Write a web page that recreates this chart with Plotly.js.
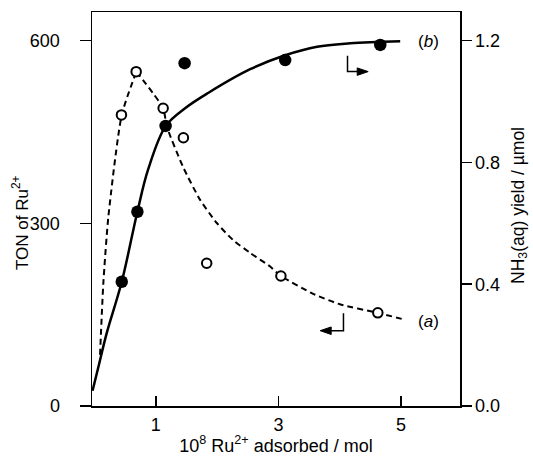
<!DOCTYPE html>
<html>
<head>
<meta charset="utf-8">
<script src="https://cdn.plot.ly/plotly-3.0.1.min.js"></script>
<style>html,body{margin:0;padding:0;background:#fff;}#chart{width:533px;height:456px;}</style>
</head>
<body>
<div id="chart"></div>
<script>
// (b) TON of Ru2+ (left axis), filled circles
const ruFilled = [0.445, 0.70, 1.16, 1.47, 3.11, 4.66];
const tonFilled = [204, 319, 460, 563, 568, 593];
// (a) NH3(aq) yield / umol (right axis), open circles
const ruOpen = [0.44, 0.68, 1.12, 1.45, 1.83, 3.04, 4.62];
const nh3Open = [0.956, 1.098, 0.978, 0.881, 0.469, 0.427, 0.306];
// fitted curve (b), solid
const ruCurveB = [-0.031, 0.064, 0.201, 0.445, 0.70, 0.874, 1.163, 1.478, 1.853, 2.538, 3.109, 3.63, 4.17, 4.985];
const tonCurveB = [25, 64, 120, 204, 319, 388, 460, 489, 514, 553, 576, 590, 595.5, 599];
// guide curve (a), dashed (rising part, then falling part from the peak)
const ruCurveA = [0.091, 0.145, 0.227, 0.445, 0.683, 1.119, 1.18, 1.445, 1.723, 1.995, 2.261, 2.538, 2.865, 3.04, 3.55, 4.0, 4.62, 5.07];
const nh3CurveA = [0.168, 0.404, 0.622, 0.956, 1.098, 0.978, 0.918, 0.785, 0.677, 0.601, 0.545, 0.503, 0.458, 0.427, 0.37, 0.334, 0.306, 0.283];
const peakIndexA = 4;
// ticks
const xTicks = [1, 3, 5];
const yTicks = [0, 300, 600];
const y2Ticks = [0, 0.4, 0.8, 1.2];

const FONT = 'Liberation Sans, Arial, sans-serif';
const dashLine = {color: '#000', width: 2, dash: '6px,4px', shape: 'spline', smoothing: 0.6};

const traces = [
  {x: ruCurveB, y: tonCurveB, type: 'scatter', mode: 'lines', line: {color: '#000', width: 2.5, shape: 'spline', smoothing: 1}, showlegend: false},
  {x: ruCurveA.slice(0, peakIndexA + 1), y: nh3CurveA.slice(0, peakIndexA + 1), yaxis: 'y2', type: 'scatter', mode: 'lines', line: dashLine, showlegend: false},
  {x: ruCurveA.slice(peakIndexA), y: nh3CurveA.slice(peakIndexA), yaxis: 'y2', type: 'scatter', mode: 'lines', line: dashLine, showlegend: false},
  {x: ruFilled, y: tonFilled, type: 'scatter', mode: 'markers', marker: {color: '#000', size: 12.5, line: {width: 0}}, showlegend: false},
  {x: ruOpen, y: nh3Open, yaxis: 'y2', type: 'scatter', mode: 'markers', marker: {color: '#fff', size: 9.5, line: {color: '#000', width: 2}}, showlegend: false}
];

const layout = {
  width: 533, height: 456,
  margin: {l: 92, r: 73, t: 12, b: 50},
  paper_bgcolor: '#fff', plot_bgcolor: '#fff',
  font: {family: FONT, size: 18, color: '#000'},
  showlegend: false,
  xaxis: {
    range: [-0.04, 5.96], tickvals: xTicks, ticktext: xTicks.map(String),
    ticks: 'inside', ticklen: 10, tickwidth: 1.5, tickcolor: '#000', ticklabelstandoff: 2,
    showline: true, linecolor: '#000', linewidth: 1.5, mirror: true,
    showgrid: false, zeroline: false,
    title: {text: '10<sup>8</sup> Ru<sup>2+</sup> adsorbed / mol', font: {size: 18}, standoff: 0}
  },
  yaxis: {
    range: [0, 647], tickvals: yTicks, ticktext: yTicks.map(String),
    ticks: 'outside', ticklen: 11, tickwidth: 1.5, tickcolor: '#000', ticklabelstandoff: 16,
    showline: true, linecolor: '#000', linewidth: 1.5,
    showgrid: false, zeroline: false
  },
  yaxis2: {
    overlaying: 'y', side: 'right', range: [0, 1.294], tickvals: y2Ticks, tickformat: '.1f',
    ticks: 'outside', ticklen: 10, tickwidth: 1.5, tickcolor: '#000',
    showline: true, linecolor: '#000', linewidth: 1.5,
    showgrid: false, zeroline: false
  },
  shapes: [
    // L-shaped pointer for (b) -> right axis
    {type: 'path', xref: 'x', yref: 'y', path: 'M4.126,575 L4.126,549.1 L4.29,549.1', line: {color: '#000', width: 1.5}},
    {type: 'path', xref: 'x', yref: 'y', path: 'M4.463,549.1 L4.284,555.2 L4.284,542.9 Z', fillcolor: '#000', line: {color: '#000', width: 1}},
    // L-shaped pointer for (a) -> left axis
    {type: 'path', xref: 'x', yref: 'y', path: 'M4.06,152.3 L4.06,123.7 L3.85,123.7', line: {color: '#000', width: 1.5}},
    {type: 'path', xref: 'x', yref: 'y', path: 'M3.68,123.7 L3.86,129.8 L3.86,117.4 Z', fillcolor: '#000', line: {color: '#000', width: 1}}
  ],
  annotations: [
    {xref: 'paper', yref: 'paper', x: -0.195, y: 0.465, text: 'TON of Ru<sup>2+</sup>', textangle: -90, showarrow: false, font: {size: 17}, xanchor: 'center', yanchor: 'middle'},
    {xref: 'paper', yref: 'paper', x: 1.16, y: 0.51, text: 'NH<sub>3</sub>(aq) yield / µmol', textangle: -90, showarrow: false, font: {size: 17.5}, xanchor: 'center', yanchor: 'middle'},
    {xref: 'x', yref: 'y', x: 5.45, y: 598, text: '(<i>b</i>)', showarrow: false, font: {size: 17}},
    {xref: 'x', yref: 'y', x: 5.45, y: 138, text: '(<i>a</i>)', showarrow: false, font: {size: 17}}
  ]
};

Plotly.newPlot('chart', traces, layout, {displayModeBar: false, staticPlot: true});
</script>
</body>
</html>
